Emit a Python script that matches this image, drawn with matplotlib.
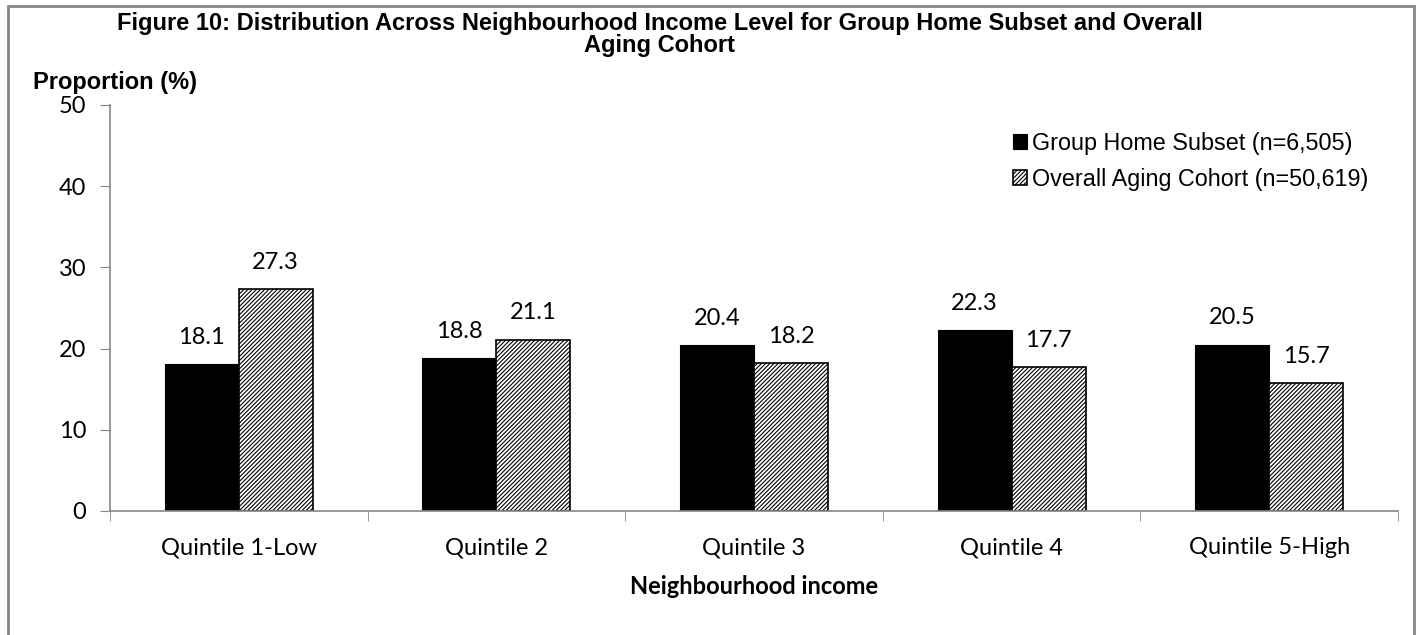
import matplotlib.pyplot as plt
import matplotlib.patches as mpatches
import numpy as np

plt.rcParams['hatch.linewidth'] = 0.8

# income quintiles and the share (%) in each
categories = ['Quintile 1-Low', 'Quintile 2', 'Quintile 3', 'Quintile 4', 'Quintile 5-High']
group_home = [18.1, 18.8, 20.4, 22.3, 20.5]
overall = [27.3, 21.1, 18.2, 17.7, 15.7]
series_names = ['Group Home Subset (n=6,505)', 'Overall Aging Cohort (n=50,619)']

fig = plt.figure(figsize=(14.19, 6.35), dpi=100)
ax = fig.add_axes([0.0775, 0.1953, 0.9077, 0.6394])

x = np.arange(len(categories))
w = 0.287
b1 = ax.bar(x - w / 2, group_home, w, color='black', edgecolor='black', linewidth=0.8,
            label=series_names[0])
b2 = ax.bar(x + w / 2, overall, w, color='white', edgecolor='black', hatch='////////',
            linewidth=1.2, label=series_names[1])

label_font = 'Lato'
fs = 17
for bars, vals in ((b1, group_home), (b2, overall)):
    for rect, v in zip(bars, vals):
        ax.text(rect.get_x() + rect.get_width() / 2, v + 2.0, f'{v:.1f}',
                ha='center', va='bottom', fontsize=fs, family=label_font)

ax.set_xlim(-0.5, len(categories) - 0.5)
ax.set_ylim(0, 50)
ax.set_yticks(range(0, 51, 10))
ax.set_yticklabels([str(v) for v in range(0, 51, 10)], fontsize=fs, family=label_font)
ax.set_xticks(x)
ax.set_xticklabels(categories, fontsize=fs, family=label_font)
ax.tick_params(axis='x', length=0, pad=19)
ax.set_xticks(np.arange(-0.5, len(categories)), minor=True)
ax.tick_params(axis='x', which='minor', length=7, color='#868686', direction='out')
ax.tick_params(axis='y', length=7, color='#868686', direction='out', pad=10)

for side in ('top', 'right'):
    ax.spines[side].set_visible(False)
for side in ('left', 'bottom'):
    ax.spines[side].set_color('#868686')
    ax.spines[side].set_linewidth(1.2)

ax.set_xlabel('Neighbourhood income', fontsize=fs, family=label_font,
              fontweight='bold', labelpad=12)

fig.text(660 / 1419, 1 - 12 / 635,
         'Figure 10: Distribution Across Neighbourhood Income Level for Group Home Subset and Overall\nAging Cohort',
         ha='center', va='top', fontsize=17, fontweight='bold', family='Liberation Sans',
         linespacing=0.95)
fig.text(33 / 1419, 1 - 82 / 635, 'Proportion (%)', ha='left', va='center',
         fontsize=17, fontweight='bold', family='Liberation Sans')

leg = ax.legend(loc='upper right', bbox_to_anchor=(0.993, 0.985), frameon=False,
                prop={'family': 'Liberation Sans', 'size': 16.8},
                handlelength=0.6, handleheight=0.6, handletextpad=0.2,
                labelspacing=0.55)

# outer chart border
fig.patches.append(mpatches.Rectangle((8 / 1419, -0.05), 1406 / 1419, 1.05 - 6 / 635,
                                      transform=fig.transFigure, fill=False,
                                      edgecolor='#868686', linewidth=2))

fig.savefig('out.png', dpi=100)
